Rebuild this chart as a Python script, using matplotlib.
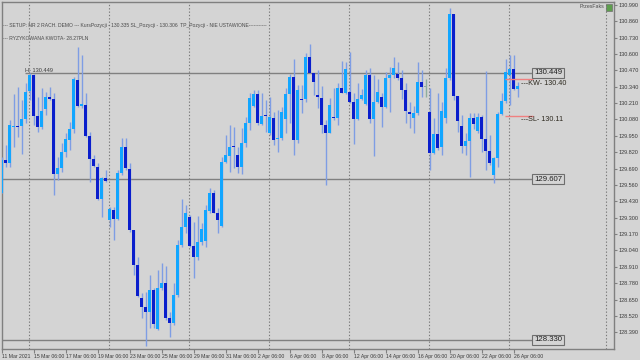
import matplotlib
matplotlib.use('Agg')
import matplotlib.pyplot as plt
import numpy as np

# ---------------- data (H6 candles) ----------------
opens = [129.499, 129.758, 129.732, 130.017, 130.028, 130.028, 130.084, 130.308, 130.433, 130.107,
         130.020, 130.160, 130.261, 130.242, 129.650, 129.692, 129.819, 129.917, 130.002, 130.393,
         130.187, 130.195, 129.949, 129.766, 129.705, 129.446, 129.613, 129.282, 129.361, 129.290,
         129.652, 129.864, 129.687, 129.203, 128.925, 128.660, 128.594, 128.555, 128.726, 128.414,
         128.740, 128.785, 128.502, 128.462, 128.687, 129.084, 129.229, 129.308, 129.076, 128.991,
         129.110, 129.118, 129.356, 129.494, 129.340, 129.234, 129.740, 129.790, 129.864, 129.798,
         129.705, 129.890, 130.055, 130.187, 130.279, 130.044, 130.115, 129.975, 130.089, 129.922,
         129.930, 130.081, 130.282, 130.414, 129.917, 130.242, 130.240, 130.573, 130.451, 130.274,
         130.253, 130.036, 129.975, 130.102, 130.089, 130.327, 130.293, 130.298, 130.221, 130.084,
         130.242, 130.203, 130.433, 130.084, 130.221, 130.256, 130.176, 130.406, 130.433, 130.441,
         130.406, 130.314, 130.142, 130.089, 130.134, 130.380, 130.335, 130.142, 129.816, 129.962,
         129.859, 130.094, 130.406, 130.917, 130.266, 130.028, 129.872, 129.912, 130.089, 129.991,
         130.102, 129.922, 129.832, 129.639, 129.771, 130.121, 130.226, 130.433, 130.478, 130.319]
highs = [129.785, 129.877, 130.076, 130.282, 130.335, 130.234, 130.372, 130.451, 130.441, 130.261,
         130.327, 130.301, 130.335, 130.287, 129.785, 129.896, 129.975, 130.062, 130.420, 130.658,
         130.592, 130.287, 129.983, 129.798, 129.732, 129.626, 129.679, 129.388, 129.388, 129.679,
         129.930, 129.930, 129.732, 129.203, 128.991, 128.700, 128.713, 128.846, 128.740, 128.885,
         128.938, 128.917, 128.555, 128.779, 129.123, 129.446, 129.401, 129.322, 129.269, 129.314,
         129.256, 129.401, 129.533, 129.520, 129.375, 129.785, 129.957, 130.036, 130.023, 129.864,
         130.010, 130.102, 130.287, 130.314, 130.314, 130.293, 130.234, 130.261, 130.142, 130.155,
         130.181, 130.327, 130.441, 130.557, 130.353, 130.353, 130.605, 130.679, 130.451, 130.472,
         130.346, 130.076, 130.248, 130.327, 130.367, 130.544, 130.539, 130.618, 130.287, 130.367,
         130.319, 130.472, 130.486, 130.433, 130.398, 130.287, 130.459, 130.499, 130.578, 130.539,
         130.472, 130.367, 130.221, 130.187, 130.539, 130.472, 130.398, 130.327, 130.089, 130.293,
         130.221, 130.486, 130.962, 130.917, 130.266, 130.115, 129.970, 130.129, 130.134, 130.129,
         130.115, 130.467, 129.957, 129.785, 130.142, 130.287, 130.557, 130.592, 130.592, 130.380]
lows = [129.494, 129.705, 129.705, 129.864, 129.938, 129.806, 130.049, 130.234, 130.036, 129.978,
        130.002, 130.115, 130.234, 129.480, 129.599, 129.666, 129.785, 129.838, 129.970, 130.181,
        130.168, 129.943, 129.586, 129.705, 129.441, 129.308, 129.586, 129.229, 129.123, 129.282,
        129.639, 129.679, 129.189, 128.846, 128.674, 128.502, 128.282, 128.422, 128.422, 128.409,
        128.726, 128.488, 128.356, 128.449, 128.674, 129.070, 129.176, 129.070, 128.819, 128.965,
        129.084, 129.065, 129.335, 129.335, 129.176, 129.229, 129.732, 129.666, 129.692, 129.658,
        129.647, 129.864, 129.996, 130.181, 130.036, 130.036, 129.983, 129.957, 129.877, 129.824,
        129.917, 129.970, 130.055, 129.798, 129.896, 130.134, 130.221, 130.446, 130.274, 130.168,
        129.970, 129.560, 129.970, 130.076, 130.036, 130.287, 130.282, 130.208, 129.885, 130.076,
        130.234, 130.195, 130.049, 129.790, 130.208, 130.023, 130.168, 130.142, 130.406, 130.393,
        130.240, 130.049, 130.010, 129.970, 130.115, 130.256, 130.256, 129.679, 129.806, 129.838,
        129.798, 130.049, 130.393, 130.234, 129.983, 129.811, 129.798, 129.626, 130.002, 129.970,
        129.824, 129.679, 129.719, 129.578, 129.705, 130.115, 130.213, 130.195, 130.314, 130.261]
closes = [129.758, 129.732, 130.036, 130.023, 130.017, 130.084, 130.295, 130.433, 130.110, 130.023,
          130.150, 130.261, 130.242, 129.647, 129.692, 129.824, 129.922, 130.002, 130.398, 130.187,
          130.200, 129.949, 129.766, 129.713, 129.446, 129.613, 129.594, 129.367, 129.290, 129.652,
          129.864, 129.692, 129.203, 128.925, 128.679, 128.594, 128.555, 128.726, 128.457, 128.740,
          128.785, 128.502, 128.467, 128.687, 129.084, 129.229, 129.335, 129.076, 128.991, 129.110,
          129.208, 129.361, 129.494, 129.340, 129.282, 129.740, 129.798, 129.864, 129.859, 129.705,
          129.890, 130.055, 130.248, 130.279, 130.049, 130.110, 130.110, 130.097, 129.917, 129.930,
          130.142, 130.282, 130.414, 129.917, 130.314, 130.237, 130.573, 130.451, 130.380, 130.256,
          130.036, 129.975, 130.195, 130.092, 130.327, 130.293, 130.478, 130.221, 130.084, 130.242,
          130.274, 130.433, 130.084, 130.221, 130.298, 130.176, 130.406, 130.433, 130.486, 130.406,
          130.314, 130.150, 130.123, 130.134, 130.380, 130.340, 130.335, 129.816, 129.962, 129.856,
          130.147, 130.406, 130.917, 130.266, 130.070, 129.872, 129.912, 130.089, 130.044, 130.102,
          129.922, 129.832, 129.732, 129.771, 130.121, 130.226, 130.459, 130.478, 130.319, 130.346]

x_labels = ["11 Mar 2021", "15 Mar 06:00", "17 Mar 06:00", "19 Mar 06:00", "23 Mar 06:00",
            "25 Mar 06:00", "29 Mar 06:00", "31 Mar 06:00", "2 Apr 06:00", "6 Apr 06:00",
            "8 Apr 06:00", "12 Apr 06:00", "14 Apr 06:00", "16 Apr 06:00", "20 Apr 06:00",
            "22 Apr 06:00", "26 Apr 06:00"]
y_ticks = [130.990, 130.860, 130.730, 130.600, 130.470, 130.340, 130.210, 130.080, 129.950,
           129.820, 129.690, 129.560, 129.430, 129.300, 129.170, 129.040, 128.910, 128.780,
           128.650, 128.520, 128.390]

level_high = 130.449
level_mid = 129.607
level_low = 128.330
kw_level = 130.40
sl_level = 130.11

header1 = "--- SETUP: NR 2 RACH. DEMO --- KursPozycji - 130.335 SL_Pozycji - 130.306  TP_Pozycji - NIE USTAWIONE-----------"
header2 = "--- RYZYKOWANA KWOTA- 28.27PLN"

# ---------------- styling ----------------
BG = '#D4D4D4'
BULL = '#12A6FF'
BEAR = '#0A1ECC'
WICK = '#7E9DE4'
DOJI = '#8EAE9E'
GRAY = '#808080'
TXT = '#3A3A3A'
plt.rcParams['font.family'] = ['Liberation Sans', 'DejaVu Sans']

W, H = 640, 360
fig = plt.figure(figsize=(6.4, 3.6), dpi=100, facecolor=BG)
left_px, right_px, top_px, bot_px = 1.5, 614, 1.5, 349
ax = fig.add_axes([left_px / W, 1 - bot_px / H, (right_px - left_px) / W, (bot_px - top_px) / H])
ax.set_facecolor(BG)

o = np.array(opens); h = np.array(highs); l = np.array(lows); c = np.array(closes)
idx = np.arange(len(o))

def px_to_i(px):
    return (px - 1.7) / 4.0

ax.set_xlim(px_to_i(left_px), px_to_i(right_px))
ax.set_ylim(128.258, 131.016)

# vertical dotted grid
for gp in [29.3, 109.3, 189.3, 269.3, 349.3, 429.3, 509.3, 605.5]:
    ax.axvline(px_to_i(gp), color='#7A7A7A', lw=0.8, ls=(0, (1.2, 1.8)), zorder=1)

# horizontal levels
box_start = px_to_i(534)
ax.hlines(level_high, px_to_i(25), box_start, color=GRAY, lw=1.0, zorder=2)
ax.hlines([level_mid, level_low], px_to_i(left_px), box_start, color=GRAY, lw=1.0, zorder=2)
ax.text(px_to_i(25), level_high, "H- 130.449", fontsize=4.0, color=TXT, ha='left', va='bottom', zorder=6)

# candles
is_doji = np.isclose(o, c)
colors = np.where(c > o, BULL, BEAR)
wick_colors = [DOJI if d else WICK for d in is_doji]
ax.vlines(idx, l, h, colors=wick_colors, lw=1.0, zorder=3)
bottoms = np.minimum(o, c)
heights = np.maximum(np.abs(c - o), 0.007)
body_colors = [DOJI if d else col for d, col in zip(is_doji, colors)]
ax.bar(idx, heights, bottom=bottoms, width=0.75, color=body_colors, linewidth=0, zorder=4)

# red lines + labels
ax.hlines([kw_level, sl_level], px_to_i(505), px_to_i(533), color='#F08080', lw=1.0, zorder=5)
ax.annotate("---KW- 130.40", xy=(px_to_i(521), kw_level), xytext=(0, -4), textcoords='offset pixels',
            fontsize=5.2, color='#2E2A20', ha='left', va='center', zorder=6)
ax.annotate("---SL- 130.11", xy=(px_to_i(521), sl_level), xytext=(0, -4), textcoords='offset pixels',
            fontsize=5.2, color='#2E2A20', ha='left', va='center', zorder=6)

# price boxes
for lv, lab in [(level_high, "130.449"), (level_mid, "129.607"), (level_low, "128.330")]:
    ax.text(px_to_i(548), lv, lab, fontsize=5.6, color='#202020', ha='center', va='center', zorder=7,
            bbox=dict(boxstyle='square,pad=0.22', fc=BG, ec='#6E6E6E', lw=0.8))

# axes
for s in ['left', 'top', 'bottom', 'right']:
    ax.spines[s].set_color(GRAY)
    ax.spines[s].set_linewidth(1.0)
ax.yaxis.tick_right()
ax.set_yticks(y_ticks)
ax.set_yticklabels([f"{v:.3f}" for v in y_ticks])
ax.tick_params(axis='y', direction='out', length=2.5, width=0.8, color=GRAY, pad=1,
               labelsize=4.0, labelcolor=TXT)
ax.set_xticks(idx[::8][:len(x_labels)])
ax.set_xticklabels(x_labels)
ax.tick_params(axis='x', direction='out', length=3, width=0.8, color=GRAY, pad=0.5,
               labelsize=3.7, labelcolor=TXT)
for lbl in ax.get_xticklabels():
    lbl.set_horizontalalignment('left')

# header texts
fig.text(3 / W, 1 - 26 / H, header1, fontsize=3.6, color='#4A4A4A', ha='left', va='center')
fig.text(3 / W, 1 - 38 / H, header2, fontsize=3.6, color='#4A4A4A', ha='left', va='center')
fig.text(604 / W, 1 - 7 / H, "PrzesFaks", fontsize=3.8, color='#4A4A4A', ha='right', va='center')
fig.patches.append(plt.Rectangle((606 / W, 1 - 11 / H), 6 / W, 7 / H, transform=fig.transFigure,
                                 fc='#5E9E4E', ec='#707070', lw=0.5))

fig.savefig('out.png', dpi=100, facecolor=BG)
